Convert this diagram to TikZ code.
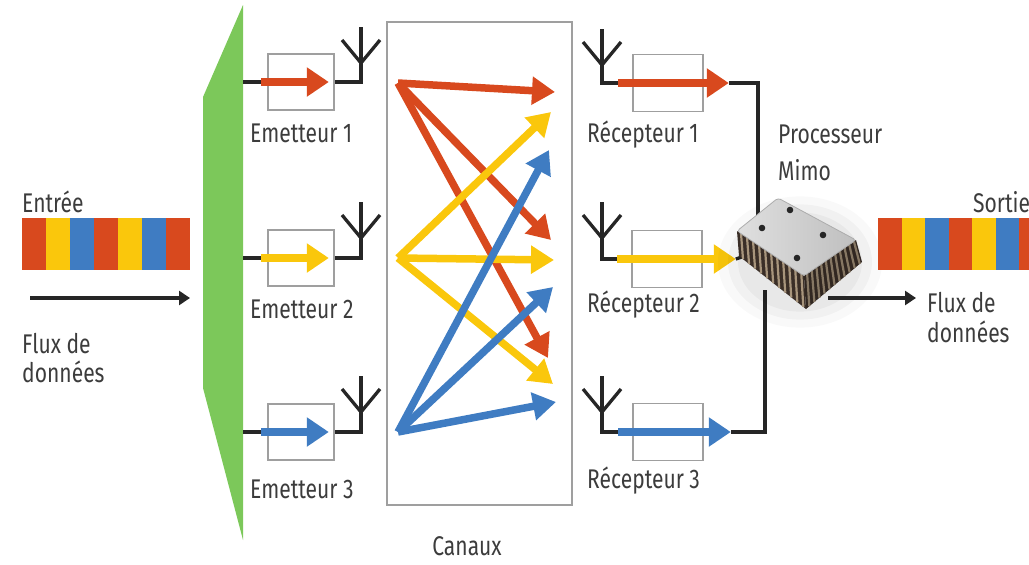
\documentclass[tikz,border=0pt]{standalone}
\usepackage{fontspec}
\setmainfont{Fira Sans}[FakeStretch=0.78]
\usetikzlibrary{arrows.meta,calc}
\definecolor{sigred}{HTML}{D8491E}
\definecolor{sigyel}{HTML}{FAC70C}
\definecolor{sigblu}{HTML}{3F7CC2}
\definecolor{splitgreen}{HTML}{7CC85A}
\definecolor{txtgray}{HTML}{3C3C3C}
\definecolor{pinbrown}{HTML}{3A2E27}
\definecolor{pinlight}{HTML}{A8957C}
\begin{document}
\begin{tikzpicture}[x=1pt,y=-1pt,
  lbl/.style={font=\fontsize{27}{30}\selectfont, text=txtgray, inner sep=0},
  box/.style={draw=gray!75, line width=1.6pt, inner sep=0, minimum width=66pt, minimum height=56pt},
  rbox/.style={box, minimum width=70pt, minimum height=57pt},
  wire/.style={line width=3.3pt, black!85},
  sig/.style={line width=8pt, -{Triangle[length=22pt,width=28pt]}},
  chsig/.style={line width=7.5pt, -{Triangle[length=23pt,width=27pt]}},
  flux/.style={line width=3.8pt, black!85, -{Triangle[length=11pt,width=14pt]}},
  antenna/.pic={\draw[wire] (-19,13) -- (0,36) -- (19,13);}
]
\useasboundingbox (0,0) rectangle (1029,565);

% input data stream
\foreach \c [count=\i from 0] in {sigred,sigyel,sigblu,sigred,sigyel,sigblu,sigred}
  \fill[\c] (22+\i*24,218) rectangle ++(24,52);
\node[lbl, anchor=base west] (entree) at (22,212) {Entrée};
\coordinate (fin0) at (30,298);
\coordinate (fin1) at (190,298);
\draw[flux] (fin0) -- (fin1);
\node[lbl, anchor=base west] (fluxa) at (22,353) {Flux de};
\node[lbl, anchor=base west] (fluxb) at (22,382) {données};

% splitter
\fill[splitgreen] (243,5) -- (203,97) -- (203,388) -- (243,540) -- cycle;

% emitters
\node[box] (e1) at (301,82) {};
\node[box] (e2) at (301,258) {};
\node[box] (e3) at (301,432) {};
\coordinate (g1) at (243,82);
\coordinate (g2) at (243,258);
\coordinate (g3) at (243,432);
\coordinate (ea1) at (361,27);
\coordinate (ea2) at (361,202);
\coordinate (ea3) at (361,376);
\foreach \k/\c in {1/sigred,2/sigyel,3/sigblu}{
  \draw[wire] (g\k) -- ($(e\k.west)+(-4,0)$);
  \draw[sig,\c] ($(e\k.west)+(-6,0)$) -- ($(e\k.east)+(-6,0)$);
  \draw[wire] (e\k.east) -| (ea\k);
  \pic at (ea\k) {antenna};
}
\node[lbl, anchor=base west] (le1) at (250,142) {Emetteur 1};
\node[lbl, anchor=base west] (le2) at (250,318) {Emetteur 2};
\node[lbl, anchor=base west] (le3) at (250,498) {Emetteur 3};

% channel
\node[draw=gray!75, line width=1.6pt, inner sep=0, minimum width=185pt, minimum height=483pt] (chan) at (479.5,263.5) {};
\node[lbl, anchor=base] (canaux) at (467,555) {Canaux};
\coordinate (sr) at (398,83);
\coordinate (sy) at (398,258);
\coordinate (sb) at (398,432);
\coordinate (tr1) at (555,92);
\coordinate (tr2) at (551,240);
\coordinate (tr3) at (548,358);
\coordinate (ty1) at (551,112);
\coordinate (ty2) at (554,260);
\coordinate (ty3) at (553,384);
\coordinate (tb1) at (549,150);
\coordinate (tb2) at (553,287);
\coordinate (tb3) at (556,402);
\foreach \t in {tr1,tr2,tr3} \draw[chsig,sigred] (sr) -- (\t);
\foreach \t in {ty1,ty2,ty3} \draw[chsig,sigyel] (sy) -- (\t);
\foreach \t in {tb1,tb2,tb3} \draw[chsig,sigblu] (sb) -- (\t);

% receivers
\node[rbox] (r1) at (668,83) {};
\node[rbox] (r2) at (667,259) {};
\node[rbox] (r3) at (668,432) {};
\coordinate (ra1) at (602,29);
\coordinate (ra2) at (602,202);
\coordinate (ra3) at (602,376);
\foreach \k in {1,2,3} {
  \draw[wire] (ra\k) |- ($(r\k.west)+(-10,0)$);
  \pic at (ra\k) {antenna};
}
\coordinate (rt1) at ($(r1.east)+(25,0)$);
\coordinate (rt2) at ($(r2.east)+(33,0)$);
\coordinate (rt3) at ($(r3.east)+(27,0)$);
\draw[sig,sigred] ($(r1.west)+(-14,0)$) -- (rt1);
\draw[sig,sigyel] ($(r2.west)+(-14,0)$) -- (rt2);
\draw[sig,sigblu] ($(r3.west)+(-14,0)$) -- (rt3);
\node[lbl, anchor=base west] (lr1) at (587,142) {Récepteur 1};
\node[lbl, anchor=base west] (lr2) at (587,312) {Récepteur 2};
\node[lbl, anchor=base west] (lr3) at (587,488) {Récepteur 3};

% MIMO processor
\coordinate (chipN) at (758,232);
\coordinate (chipS) at (765,290);
\coordinate (chipW) at (742,257);
\draw[wire] (rt1) -| (chipN);
\draw[wire] (rt3) -| (chipS);
\draw[wire] (rt2) -- (chipW);
\node[lbl, anchor=base west] (proc) at (778,143) {Processeur};
\node[lbl, anchor=base west] (mimo) at (778,180) {Mimo};

\coordinate (T) at (778,198);
\coordinate (R) at (856,240);
\coordinate (B) at (804,276);
\coordinate (L) at (737,231);
\coordinate (R2) at (862,262);
\coordinate (B2) at (806,309);
\coordinate (L2) at (739,256);
% soft shadow
\foreach \s/\o in {82/0.025,72/0.03,62/0.035}
  \fill[black,opacity=\o] (800,262) ellipse ({\s} and {\s*0.8});
% pin rows on the two front faces
\fill[pinbrown] (L) -- (B) -- (B2) -- (L2) -- cycle;
\fill[pinbrown!85!black] (B) -- (R) -- (R2) -- (B2) -- cycle;
\foreach \t in {0.06,0.15,...,0.97} {
  \draw[pinlight, line width=2.2pt] ($(L)!\t!(B)$) -- ($(L2)!\t!(B2)$);
  \draw[pinlight!80!black, line width=2.2pt] ($(B)!\t!(R)$) -- ($(B2)!\t!(R2)$);
}
% lid
\shade[left color=gray!25, right color=gray!50, draw=gray!65, line width=0.8pt, rounded corners=3pt]
  (T) -- (R) -- (B) -- (L) -- cycle;
\foreach \p in {(790,210),(762,228),(823,235),(797,258)}
  \fill[gray!30!black] \p circle (3.3);

\coordinate (fout0) at (828,298);
\coordinate (fout1) at (916,298);
\draw[flux] (fout0) -- (fout1);

% output data stream
\begin{scope}
\clip (860,150) rectangle (1029,280);
\foreach \c [count=\i from 0] in {sigred,sigyel,sigblu,sigred,sigyel,sigblu,sigred}
  \fill[\c] (878+\i*23.5,218) rectangle ++(23.5,52);
\node[lbl, anchor=base west] (sortie) at (973,212) {Sortie};
\end{scope}
\node[lbl, anchor=base west] (fluxc) at (927,312) {Flux de};
\node[lbl, anchor=base west] (fluxd) at (927,342) {données};
\end{tikzpicture}
\end{document}
